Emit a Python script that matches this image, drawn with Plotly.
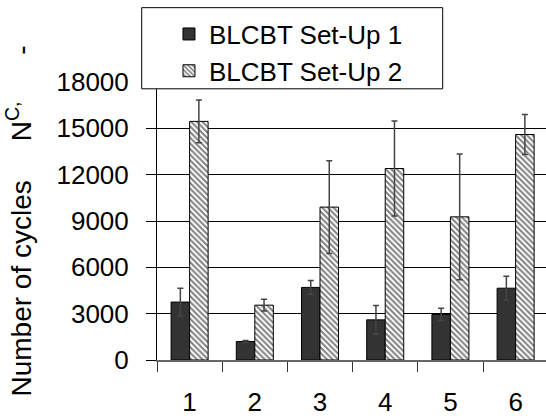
import plotly.graph_objects as go

categories = ["1", "2", "3", "4", "5", "6"]
setup1 = [3750, 1200, 4700, 2600, 2950, 4650]
setup1_err = [900, 60, 450, 930, 400, 780]
setup2 = [15450, 3550, 9900, 12400, 9270, 14600]
setup2_err = [1380, 380, 3000, 3080, 4070, 1300]
y_ticks = [0, 3000, 6000, 9000, 12000, 15000, 18000]

FONT = "Liberation Sans, Arial, sans-serif"

fig = go.Figure()
fig.add_trace(go.Bar(
    x=categories, y=setup1, name="BLCBT Set-Up 1",
    marker=dict(color="#333333", line=dict(color="black", width=1)),
    error_y=dict(type="data", array=setup1_err, color="#444444", thickness=1.5, width=3),
))
fig.add_trace(go.Bar(
    x=categories, y=setup2, name="BLCBT Set-Up 2",
    marker=dict(color="white", line=dict(color="black", width=1),
                pattern=dict(shape="\\", fgcolor="black", bgcolor="white", size=4, solidity=0.5)),
    error_y=dict(type="data", array=setup2_err, color="#444444", thickness=1.5, width=3),
))

# legend frame
fig.add_shape(type="rect", xref="paper", yref="paper",
              x0=-0.0393, x1=0.7344, y0=0.9755, y1=1.2674,
              line=dict(color="black", width=1), fillcolor="white", layer="above")

fig.update_layout(
    width=546, height=418,
    margin=dict(l=157, r=0, t=82, b=58),
    paper_bgcolor="white", plot_bgcolor="white",
    font=dict(family=FONT, size=26, color="black"),
    barmode="group", bargap=0.432, bargroupgap=0,
    showlegend=True,
    legend=dict(x=0.0308, y=1.257, xanchor="left", yanchor="top",
                bgcolor="rgba(0,0,0,0)", borderwidth=0,
                font=dict(family=FONT, size=26, color="black")),
    xaxis=dict(type="category", categoryorder="array", categoryarray=categories,
               range=[-0.5, 5.466], tickson="boundaries", ticks="outside", ticklen=10,
               tickcolor="#333333", showline=True, linecolor="#666666", linewidth=1.5,
               showgrid=False, ticklabelstandoff=18,
               tickfont=dict(family=FONT, size=26, color="black")),
    yaxis=dict(range=[0, 18000], tickvals=y_ticks, ticktext=[str(v) for v in y_ticks],
               ticks="outside", ticklen=10, tickcolor="black",
               showline=True, linecolor="black", linewidth=1,
               showgrid=True, gridcolor="black", gridwidth=1, zeroline=False,
               ticklabelstandoff=12,
               tickfont=dict(family=FONT, size=26, color="black"),
               title=dict(text="Number of cycles&nbsp;&nbsp;&nbsp;&nbsp;&nbsp;N<sup>C,</sup>&nbsp;&nbsp;&nbsp;&nbsp;&nbsp;&nbsp;-",
                          font=dict(family=FONT, size=28, color="black"), standoff=16)),
)

fig.write_html("out.html")
